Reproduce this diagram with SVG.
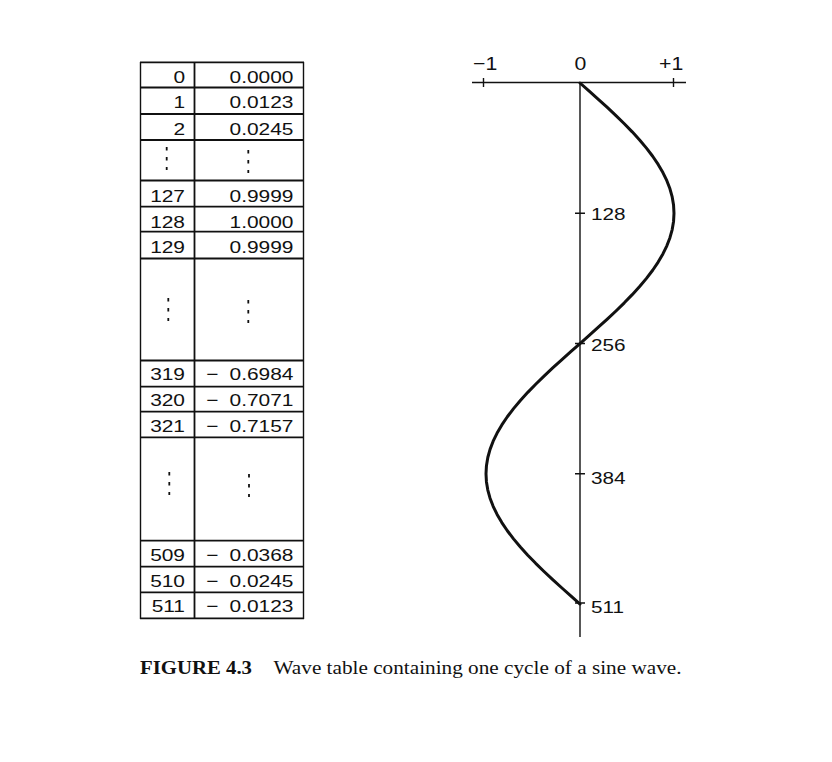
<svg xmlns="http://www.w3.org/2000/svg" width="832" height="762" viewBox="0 0 832 762">
<style>
.bg{fill:#ffffff}
.hl{stroke:#111;stroke-width:1.8;fill:none}
.vl{stroke:#111;stroke-width:1.4;fill:none}
.dots{stroke:#111;stroke-width:1.8;stroke-dasharray:3.5 6.5;fill:none}
.t{font-family:"Liberation Sans",Arial,sans-serif;font-size:17px;fill:#111;text-anchor:end}
.a{font-family:"Liberation Sans",Arial,sans-serif;font-size:17px;fill:#111}
.a2{font-family:"Liberation Sans",Arial,sans-serif;font-size:19px;fill:#111}
.ax{stroke:#111;stroke-width:1.4;fill:none}
.wave{stroke:#111;stroke-width:3;fill:none;stroke-linejoin:round;stroke-linecap:round}
.cap{font-family:"Liberation Serif","Times New Roman",serif;font-size:18.5px;fill:#111}
</style>
<rect class="bg" x="0" y="0" width="832" height="762"/>

<g id="table">
  <g id="table-lines">
    <path class="hl" d="M140 62.3H304M140 87.5H304M140 114H304M140 140H304M140 180.5H304M140 206.7H304M140 231.7H304M140 258.5H304M140 360.5H304M140 386.7H304M140 411.7H304M140 437.3H304M140 540.7H304M140 566.7H304M140 592.3H304M140 618.3H304"/>
    <path class="vl" d="M140.5 62V619M303.5 62V619"/>
    <path class="hl" d="M194.5 62V619"/>
  </g>
  <g id="table-dots">
    <path class="dots" d="M166.7 147V170M248.3 150V173M168.3 298V321M248.3 300V323M169.3 472V495M249 474V497"/>
  </g>
  <g id="col-index">
    <text class="t" transform="translate(185,82.5) scale(1.23,1)">0</text>
    <text class="t" transform="translate(185,108.3) scale(1.23,1)">1</text>
    <text class="t" transform="translate(185,135) scale(1.23,1)">2</text>
    <text class="t" transform="translate(185,202) scale(1.23,1)">127</text>
    <text class="t" transform="translate(185,228) scale(1.23,1)">128</text>
    <text class="t" transform="translate(185,253.3) scale(1.23,1)">129</text>
    <text class="t" transform="translate(185,379.5) scale(1.23,1)">319</text>
    <text class="t" transform="translate(185,406.2) scale(1.23,1)">320</text>
    <text class="t" transform="translate(185,431.5) scale(1.23,1)">321</text>
    <text class="t" transform="translate(185,560.5) scale(1.23,1)">509</text>
    <text class="t" transform="translate(185,586.5) scale(1.23,1)">510</text>
    <text class="t" transform="translate(185,612) scale(1.23,1)">511</text>
  </g>
  <g id="col-value">
    <text class="t" transform="translate(293.5,82.5) scale(1.23,1)">0.0000</text>
    <text class="t" transform="translate(293.5,108.3) scale(1.23,1)">0.0123</text>
    <text class="t" transform="translate(293.5,135) scale(1.23,1)">0.0245</text>
    <text class="t" transform="translate(293.5,202) scale(1.23,1)">0.9999</text>
    <text class="t" transform="translate(293.5,228) scale(1.23,1)">1.0000</text>
    <text class="t" transform="translate(293.5,253.3) scale(1.23,1)">0.9999</text>
    <text class="t" transform="translate(293.5,379.5) scale(1.23,1)">−<tspan dx="9">0.6984</tspan></text>
    <text class="t" transform="translate(293.5,406.2) scale(1.23,1)">−<tspan dx="9">0.7071</tspan></text>
    <text class="t" transform="translate(293.5,431.5) scale(1.23,1)">−<tspan dx="9">0.7157</tspan></text>
    <text class="t" transform="translate(293.5,560.5) scale(1.23,1)">−<tspan dx="9">0.0368</tspan></text>
    <text class="t" transform="translate(293.5,586.5) scale(1.23,1)">−<tspan dx="9">0.0245</tspan></text>
    <text class="t" transform="translate(293.5,612) scale(1.23,1)">−<tspan dx="9">0.0123</tspan></text>
  </g>
</g>

<g id="axes">
  <path class="ax" d="M472 82.5H686M483.5 78V87M673.5 78V87"/>
  <path class="ax" d="M580 82V637"/>
  <path class="ax" d="M575 213.3H585M575 343.5H585M575 473.8H585M575 603H585"/>
  <text class="a2" transform="translate(473,69.5) scale(1.12,1)">−1</text>
  <text class="a2" transform="translate(574.5,69.5) scale(1.12,1)">0</text>
  <text class="a2" transform="translate(659,69.5) scale(1.12,1)">+1</text>
  <text class="a" transform="translate(591,219.5) scale(1.22,1)">128</text>
  <text class="a" transform="translate(591,350.5) scale(1.22,1)">256</text>
  <text class="a" transform="translate(591,483.5) scale(1.22,1)">384</text>
  <text class="a" transform="translate(591,612.7) scale(1.22,1)">511</text>
</g>

<g id="sine-wave">
  <polyline class="wave" points="580.00,83.00 589.21,91.14 598.34,99.28 607.29,107.42 615.97,115.56 624.31,123.71 632.22,131.85 639.63,139.99 646.47,148.13 652.66,156.27 658.16,164.41 662.90,172.55 666.84,180.69 669.95,188.83 672.19,196.97 673.55,205.12 674.00,213.26 673.55,221.40 672.19,229.54 669.95,237.68 666.84,245.82 662.90,253.96 658.16,262.10 652.66,270.24 646.47,278.38 639.63,286.53 632.22,294.67 624.31,302.81 615.97,310.95 607.29,319.09 598.34,327.23 589.21,335.37 580.00,343.51 570.79,351.65 561.66,359.79 552.71,367.94 544.03,376.08 535.69,384.22 527.78,392.36 520.37,400.50 513.53,408.64 507.34,416.78 501.84,424.92 497.10,433.06 493.16,441.20 490.05,449.35 487.81,457.49 486.45,465.63 486.00,473.77 486.45,481.91 487.81,490.05 490.05,498.19 493.16,506.33 497.10,514.47 501.84,522.61 507.34,530.76 513.53,538.90 520.37,547.04 527.78,555.18 535.69,563.32 544.03,571.46 552.71,579.60 561.66,587.74 570.79,595.88 580.00,604.02"/>
</g>

<g id="caption">
  <text class="cap" x="140" y="674" font-weight="bold" textLength="112" lengthAdjust="spacingAndGlyphs">FIGURE 4.3</text>
  <text class="cap" x="273.5" y="674" textLength="408" lengthAdjust="spacingAndGlyphs">Wave table containing one cycle of a sine wave.</text>
</g>
</svg>
